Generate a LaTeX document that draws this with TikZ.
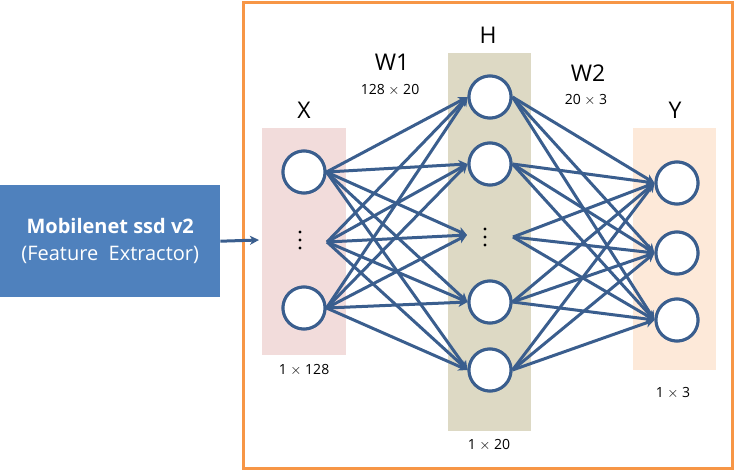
\documentclass[tikz,border=0pt]{standalone}
\usepackage{fontspec}
\setmainfont{Open Sans}
\usetikzlibrary{arrows.meta}
\definecolor{frameor}{HTML}{F79646}
\definecolor{boxblue}{HTML}{4F81BD}
\definecolor{linkblue}{HTML}{3A5E8E}
\definecolor{xfill}{HTML}{F2DCDB}
\definecolor{hfill}{HTML}{DDD9C4}
\definecolor{yfill}{HTML}{FDE9D9}
\tikzset{
  neuron/.style={circle,draw=linkblue,line width=3pt,fill=white,minimum size=42pt,inner sep=0pt},
  link/.style={draw=linkblue,line width=3pt,-{Stealth[length=9pt,width=9pt,inset=2.5pt]}},
  dotmark/.style={circle,fill=black,inner sep=0pt,minimum size=3.4pt},
  biglab/.style={font=\fontsize{23}{23}\selectfont},
  smalllab/.style={font=\fontsize{14}{14}\selectfont},
}
\begin{document}
\begin{tikzpicture}[x=1pt,y=-1pt]
\useasboundingbox (0,0) rectangle (736,471);
% orange frame
\draw[frameor,line width=3pt] (243,2) rectangle (732,468);
% left box
\node[fill=boxblue,minimum width=220pt,minimum height=112pt,inner sep=0pt,anchor=north west,text=white,align=center,font=\fontsize{20}{27}\selectfont] (fe) at (0,185) {\textbf{Mobilenet ssd v2}\\(Feature\ \ Extractor)};
\coordinate (feend) at (259,240);
\draw[draw=linkblue,line width=3pt,-{Stealth[length=9pt,width=9pt,inset=2.5pt]}] (fe.east) -- (feend);
% columns
\fill[xfill] (262,128) rectangle (346,355);
\fill[hfill] (448,53) rectangle (531,431);
\fill[yfill] (633,128) rectangle (716,370);
% labels
\node[biglab] (lx) at (304,110) {X};
\node[biglab] (lh) at (488,35) {H};
\node[biglab] (ly) at (675,110) {Y};
\node[biglab] (lw1) at (392,62) {W1};
\node[biglab] (lw2) at (588,73) {W2};
\node[smalllab] (sw1) at (390,90) {128 $\times$ 20};
\node[smalllab] (sw2) at (586,100) {20 $\times$ 3};
\node[smalllab] (sx) at (304,370) {1 $\times$ 128};
\node[smalllab] (sh) at (489,445) {1 $\times$ 20};
\node[smalllab] (sy) at (673,393) {1 $\times$ 3};
% X nodes
\node[neuron] (x1) at (304,172) {};
\node[neuron] (x2) at (304,308) {};
\foreach \d in {232,240,248}{\node[dotmark] at (300,\d) {};}
\coordinate (xds) at (327,242);
% H nodes
\node[neuron] (h1) at (490,97) {};
\node[neuron] (h2) at (490,164) {};
\node[neuron] (h4) at (490,302) {};
\node[neuron] (h5) at (490,370) {};
\foreach \d in {229,237,245}{\node[dotmark] at (485,\d) {};}
\coordinate (hdt) at (467,235);
\coordinate (hds) at (513,237);
% Y nodes
\node[neuron] (y1) at (677,183) {};
\node[neuron] (y2) at (677,253) {};
\node[neuron] (y3) at (677,320) {};
% links X->H
\foreach \s in {x1.east,xds,x2.east}{
  \foreach \t in {h1.west,h2.west,hdt,h4.west,h5.west}{
    \draw[link] (\s) -- (\t);
  }
}
% links H->Y
\foreach \s in {h1.east,h2.east,hds,h4.east,h5.east}{
  \foreach \t in {y1.west,y2.west,y3.west}{
    \draw[link] (\s) -- (\t);
  }
}
% redraw circles on top
\foreach \n/\px/\py in {x1/304/172,x2/304/308,h1/490/97,h2/490/164,h4/490/302,h5/490/370,y1/677/183,y2/677/253,y3/677/320}{
  \node[neuron] (r\n) at (\px,\py) {};
}
\end{tikzpicture}
\end{document}
